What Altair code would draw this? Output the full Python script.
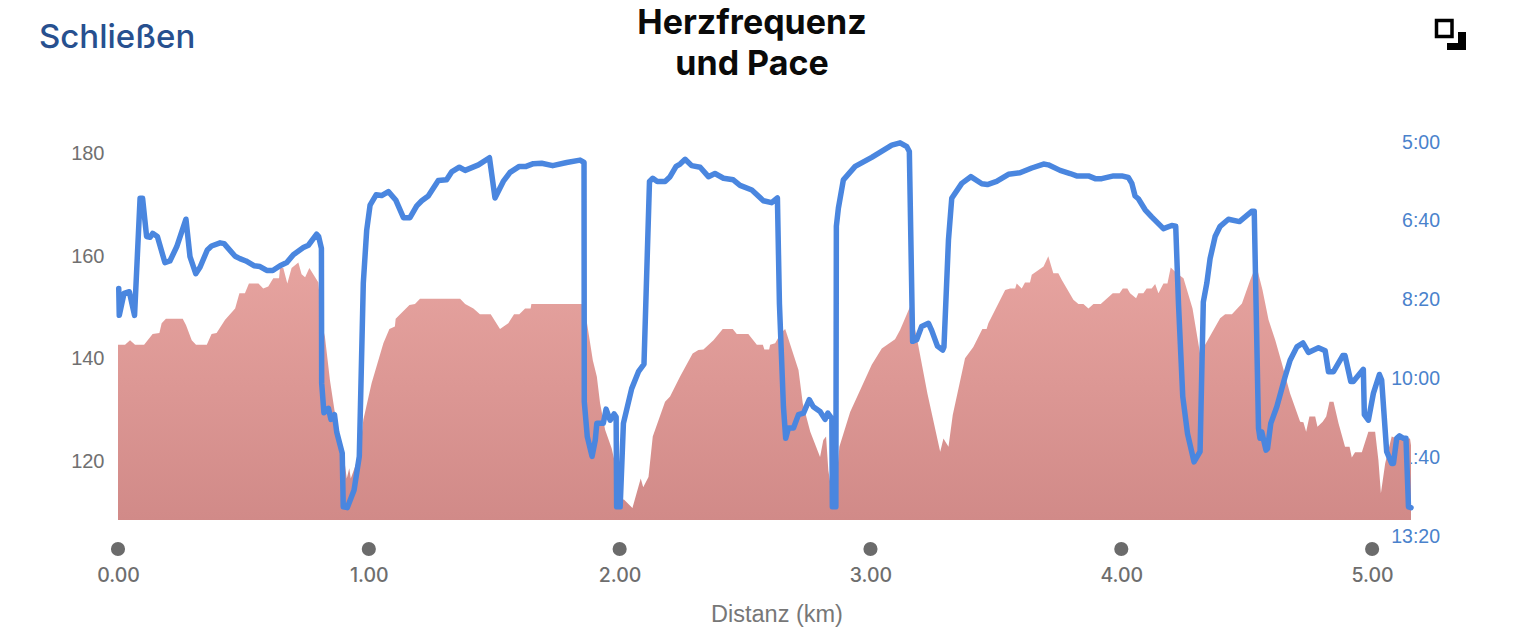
import altair as alt
import pandas as pd

pace_km = [0.003,0.005,0.024,0.045,0.066,0.088,0.098,0.114,0.128,0.138,0.157,0.187,0.207,0.234,0.271,0.287,0.310,0.327,0.356,0.373,0.407,0.423,0.467,0.486,0.510,0.542,0.566,0.593,0.617,0.646,0.673,0.699,0.739,0.759,0.792,0.800,0.811,0.812,0.821,0.839,0.849,0.863,0.872,0.894,0.898,0.914,0.941,0.962,0.978,0.9915,1.005,1.029,1.051,1.078,1.108,1.138,1.164,1.191,1.211,1.237,1.277,1.310,1.330,1.361,1.384,1.437,1.481,1.503,1.536,1.563,1.600,1.627,1.656,1.689,1.733,1.789,1.842,1.858,
1.859,1.871,1.890,1.903,1.909,1.935,1.946,1.962,1.978,1.986,1.988,2.002,2.015,2.048,2.075,2.097,2.119,2.132,2.150,2.181,2.201,2.225,2.241,2.261,2.287,2.321,2.354,2.380,2.414,2.453,2.480,2.527,2.573,2.606,2.629,2.637,2.653,2.662,2.673,2.693,2.713,2.733,2.756,2.772,2.799,2.819,2.830,2.846,2.848,2.862,2.864,2.872,2.892,2.939,3.005,3.085,3.118,3.145,3.155,3.168,3.184,3.204,3.231,3.244,3.267,3.288,3.293,3.311,3.324,3.364,3.400,3.444,3.466,3.503,3.550,3.596,3.643,3.690,3.709,3.756,3.796,
3.822,3.869,3.896,3.922,3.969,4.002,4.028,4.042,4.055,4.068,4.095,4.121,4.168,4.201,4.217,4.228,4.245,4.264,4.290,4.314,4.327,4.341,4.354,4.374,4.394,4.427,4.471,4.520,4.530,4.547,4.553,4.560,4.577,4.583,4.596,4.620,4.653,4.673,4.700,4.724,4.746,4.786,4.813,4.826,4.846,4.883,4.892,4.915,4.925,4.965,4.969,4.985,5.005,5.029,5.038,5.058,5.078,5.085,5.098,5.109,5.125,5.135,5.145,5.155]
pace_s = [486,520,492,490,520,371.5,371.5,420,421,416,420,453,451,433,398,445.5,467,459,437,432,428,429,445,448,451,457,458,463,463,457,453,443,434,431,417,420,435,606,643.5,638,652,646,668,695,763,764,742,699,479,412,380,367,368,363,374,396,396,381,374.5,368.5,349,348,338,332,336,329,320,371,350,338.5,331,331,327.5,327,330,326,323,326,
629.5,674,699,678,657,657,639,653,645,649,763,763,657,613,591.5,582,350,346,350,350,344,331,328,322,330,332,344,340,346,348,355,361,374.5,377,371,505,636,676,663,663,646,644,627,636,642,652,644,651,763,763,407,384,348,331,319.5,304,301,306,312,553,551,534,530,539,559,564,560,424,371.5,352.5,344,353,354,350,341,339,333,328,329,336,340,
343,343,346.5,346.5,343,343,345,352.5,368.5,372,386,395,410,406,407,505,623,670,706,693,503,479,448,420,407,398,401,388,388,663,676,668,691,689,657,636,598,577,560,555,567,561,565,591.5,591.5,571,571,604,604,588.5,646,653,619,595,602,693,708,708,676,673,676,676,763,764]

hr_km = [0,0.028,0.048,0.068,0.104,0.138,0.165,0.174,0.191,0.258,0.271,0.294,0.311,0.354,0.373,0.393,0.427,0.467,0.484,0.506,0.522,0.560,0.579,0.599,0.619,0.642,0.646,0.659,0.675,0.692,0.719,0.732,0.746,0.763,0.799,0.812,0.825,0.845,0.865,0.879,0.898,0.912,0.922,0.928,0.945,0.965,0.978,1.011,1.058,1.082,1.104,1.107,1.162,1.184,1.204,1.364,1.384,1.417,1.443,1.486,1.523,1.556,1.579,1.600,1.623,1.645,1.648,1.849,
1.869,1.893,1.909,1.922,1.942,1.968,1.982,2.002,2.017,2.051,2.084,2.094,2.115,2.132,2.181,2.201,2.241,2.291,2.314,2.334,2.374,2.411,2.451,2.467,2.513,2.547,2.571,2.577,2.596,2.600,2.620,2.643,2.660,2.713,2.730,2.760,2.799,2.812,2.823,2.832,2.848,2.859,2.876,2.919,2.965,3.005,3.045,3.098,3.118,3.158,3.184,3.227,3.278,3.291,3.311,3.328,3.377,3.410,3.446,3.463,3.470,3.537,3.557,3.577,3.583,3.603,3.616,3.636,3.643,3.690,3.709,3.729,3.749,
3.763,3.809,3.829,3.849,3.869,3.889,3.918,3.966,3.993,4.006,4.024,4.035,4.059,4.068,4.088,4.101,4.121,4.135,4.148,4.168,4.184,4.197,4.221,4.248,4.284,4.314,4.341,4.394,4.414,4.441,4.481,4.514,4.538,4.563,4.587,4.614,4.640,4.673,4.713,4.726,4.737,4.750,4.773,4.782,4.803,4.817,4.830,4.846,4.866,4.892,4.910,4.919,4.932,4.959,4.985,5.012,5.025,5.035,5.052,5.078,5.098,5.151,5.155]
hr_bpm = [142.7,142.7,143.6,142.7,142.7,144.8,145,146.9,147.8,147.8,146.6,143.6,142.7,142.7,144.8,145,147.6,149.8,152.8,152.8,154.7,154.7,153.7,154.1,155.7,155.7,157.7,157.7,154.7,157.7,158.8,156.5,155.9,157.7,154.9,146.9,144.3,135.8,129.3,124.8,121.8,116.6,118.6,116.6,118.9,122.1,128,135.2,143,145.8,146.3,147.8,150.5,150.7,151.7,151.7,150.7,149.8,148.7,148.7,145.8,146.9,148.7,148.7,149.8,149.8,150.7,150.7,
147.2,139.7,136.5,131.3,126.1,122.5,119.5,112.4,112.5,110.8,116.6,114.9,116.9,124.8,131.6,132.6,136.5,141,141.7,141.8,143.6,145.8,145.8,144.8,144.8,142.7,142.7,141.8,141.8,142.7,143,145,145.8,137.8,131.3,125.7,120.8,124.1,124.8,118.2,113,113,122.8,129.6,134.5,138.8,142,143.8,145.6,150.2,144.3,133.2,121.8,124.4,122.8,129,140.1,142.3,145.8,145.8,146.9,153.4,153.7,153.7,154.7,153.7,154.9,154.9,156.4,158,160,156.7,156.7,
155.4,151.5,150.7,150.7,149.8,150.7,150.7,152.8,152.8,153.7,153.7,152.8,151.8,152.8,152.8,153.7,153.7,154.6,152.8,154.7,154.7,157.8,156.7,155.7,149.8,141,143.3,147.9,148.7,148.7,150.8,155.4,158.3,153.4,147.6,143.6,139.1,133.2,127.7,127.6,125.7,128.7,128.7,126.7,127.7,128.7,131.6,131.6,127.4,122.8,122.8,120.7,121.7,121.7,125.7,125.7,120.2,113.7,119.5,124.8,124.4,124.4,123.1]

x_ticks = [0, 1, 2, 3, 4, 5]
hr_ticks = [120, 140, 160, 180]
pace_ticks = [300, 400, 500, 600, 700, 800]
title_lines = ["Herzfrequenz", "und Pace"]
close_label = ["Schließen"]
x_title = "Distanz (km)"

X_DOMAIN = [0, 5.155]
HR_DOMAIN = [105.35, 190.55]
HR_BASE = 108.47
PACE_DOMAIN = [800, 246.7]
LEFT, TOP, W, H = 118, 100, 1293, 436
SANS = "Liberation Sans"

pace_df = pd.DataFrame({"km": pace_km, "pace": pace_s, "i": range(len(pace_km))})
hr_df = pd.DataFrame({"km": hr_km, "hr": hr_bpm})
x_scale = alt.Scale(domain=X_DOMAIN, nice=False, zero=False)

area = alt.Chart(hr_df).mark_area(
    color=alt.Gradient(
        gradient="linear",
        stops=[alt.GradientStop(color="#E7A4A0", offset=0), alt.GradientStop(color="#D18A88", offset=1)],
        x1=0, x2=0, y1=0, y2=1),
    interpolate="linear",
).encode(
    x=alt.X("km:Q", scale=x_scale, title=x_title, axis=alt.Axis(
        values=x_ticks, format=".2f", domain=False, ticks=False, grid=False, labelFlush=False,
        labelFont="Inter", labelFontSize=19.5, labelFontWeight=500, labelColor="#6e6e6e", labelPadding=30,
        titleFont=SANS, titleFontSize=23.5, titleFontWeight="normal", titleColor="#777777", titlePadding=18,
        titleX=776.5 - LEFT, titleAnchor="middle")),
    y=alt.Y("hr:Q", scale=alt.Scale(domain=HR_DOMAIN, nice=False, zero=False), title=None, axis=alt.Axis(
        values=hr_ticks, domain=False, ticks=False, grid=False, orient="left",
        labelFont=SANS, labelFontSize=20, labelColor="#707070", labelPadding=14)),
    y2=alt.Y2(datum=HR_BASE),
)

line = alt.Chart(pace_df).mark_line(
    color="#4A86DF", strokeWidth=5.5, strokeJoin="round", strokeCap="round", interpolate="linear"
).encode(
    x=alt.X("km:Q", scale=x_scale),
    y=alt.Y("pace:Q", scale=alt.Scale(domain=PACE_DOMAIN, nice=False, zero=False), title=None, axis=alt.Axis(
        values=pace_ticks, domain=False, ticks=False, grid=False, orient="right",
        labelExpr="floor(datum.value/60)+':'+(datum.value%60<10?'0':'')+(datum.value%60)",
        labelFont=SANS, labelFontSize=19.5, labelColor="#4A82CC", labelAlign="right", labelPadding=28.5)),
    order="i:Q",
)

dots = alt.Chart(pd.DataFrame({"km": x_ticks})).mark_circle(size=200, color="#6b6b6b", opacity=1).encode(
    x=alt.X("km:Q", scale=x_scale),
    y=alt.value(549 - TOP),
)

title = alt.Chart(pd.DataFrame({"t": ["\n".join(title_lines)]})).mark_text(
    font="Inter", fontSize=34, fontWeight="bold", color="#0a0a0a", align="center", baseline="alphabetic",
    lineBreak="\n", lineHeight=41,
).encode(x=alt.value(752 - LEFT), y=alt.value(34 - TOP), text="t:N")
close = alt.Chart(pd.DataFrame({"t": close_label})).mark_text(
    font="Inter", fontSize=33, fontWeight=500, color="#27508F", align="left", baseline="alphabetic"
).encode(x=alt.value(39 - LEFT), y=alt.value(48 - TOP), text="t:N")

def icon_rect(x0, x1, y0, y1, **kw):
    return alt.Chart(pd.DataFrame({"a": [0]})).mark_rect(**kw).encode(
        x=alt.value(x0 - LEFT), x2=alt.value(x1 - LEFT), y=alt.value(y0 - TOP), y2=alt.value(y1 - TOP))

icon = [
    icon_rect(1436.5, 1452, 20.5, 36.5, fillOpacity=0, stroke="#000000", strokeWidth=3.5),
    icon_rect(1447, 1466, 43, 50, color="#000000"),
    icon_rect(1458, 1466, 32, 50, color="#000000"),
]

chart = alt.layer(area, line, dots, title, close, *icon).resolve_scale(y="independent").properties(
    width=W, height=H,
    padding={"left": LEFT - 8, "top": TOP - 8, "right": 100, "bottom": 93},
    autosize=alt.AutoSizeParams(type="none"),
).configure_view(stroke=None)

chart.save("out.html", embed_options={"renderer": "svg", "actions": False})
